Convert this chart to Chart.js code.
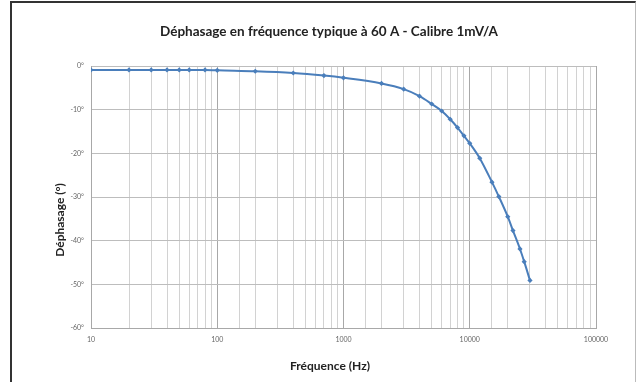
<!DOCTYPE html>
<html>
<head>
<meta charset="utf-8">
<script src="https://cdn.jsdelivr.net/npm/chart.js@4/dist/chart.umd.min.js"></script>
<style>
  html, body { margin: 0; padding: 0; background: #fff; }
  #wrap { position: relative; width: 636px; height: 382px; }
  #frame {
    position: absolute; left: 10px; top: 1px; width: 623px; height: 384px;
    border-left: 2px solid #333; border-top: 2px solid #333; border-right: 1px solid #bbb;
    pointer-events: none;
  }
</style>
</head>
<body>
<div id="wrap">
  <canvas id="phasegraph" width="636" height="382"></canvas>
  <div id="frame"></div>
</div>
<script>
const titleText = "Déphasage en fréquence typique à 60 A - Calibre 1mV/A";
const xTitle = "Fréquence (Hz)";
const yTitle = "Déphasage (°)";

// frequencies (Hz) and phase (degrees)
const freqs = [10, 20, 30, 40, 50, 60, 80, 100, 200, 400, 700, 1000, 2000, 3000, 4000, 5000,
    6000, 7000, 8000, 9000, 10000, 12000, 15000, 17000, 20000, 22000, 25000, 27000, 30000];
const phases = [-0.9, -0.9, -0.9, -0.9, -0.9, -0.9, -0.9, -1.0, -1.2, -1.6, -2.2, -2.7, -4.0, -5.3,
    -6.9, -8.7, -10.3, -12.2, -14.1, -16.0, -17.7, -21.1, -26.6, -29.9, -34.5, -37.7, -41.9, -44.8, -49.1];

const xMin = 10, xMax = 100000;
const yMin = -60, yMax = 0, yStep = 10;

const blue = "#4a7ebb";
const fontFamily = "Lato, 'Open Sans', sans-serif";

const points = freqs.map((f, i) => ({ x: f, y: phases[i] }));

// Excel puts the titles a bit off the plot centre, so they are drawn by hand
const titlesPlugin = {
    id: "titles",
    afterDraw(chart) {
        const c = chart.ctx;
        c.save();
        c.fillStyle = "#222";
        c.textAlign = "center";
        c.textBaseline = "middle";
        c.font = "bold 13.5px " + fontFamily;
        c.fillText(titleText, 329, 32);
        c.font = "bold 12px " + fontFamily;
        c.fillText(xTitle, 330, 366);
        c.translate(60, 220);
        c.rotate(-Math.PI / 2);
        c.fillText(yTitle, 0, 0);
        c.restore();
    },
};

const ctx = document.getElementById("phasegraph").getContext("2d");

const chart = new Chart(ctx, {
    type: "scatter",
    data: {
        datasets: [
            {
                label: "Déphasage",
                data: points,
                showLine: true,
                borderColor: blue,
                backgroundColor: blue,
                borderWidth: 2,
                cubicInterpolationMode: "monotone",
                pointStyle: "rectRot",
                pointRadius: 2.6,
                pointBorderWidth: 0,
            },
        ],
    },
    plugins: [titlesPlugin],
    options: {
        responsive: false,
        animation: false,
        layout: { padding: { left: 12, right: 40, top: 66, bottom: 0 } },
        plugins: {
            legend: { display: false },
            tooltip: { enabled: false },
        },
        scales: {
            x: {
                type: "logarithmic",
                min: xMin,
                max: xMax,
                afterFit: (s) => { s.height = 54; },
                grid: {
                    drawTicks: false,
                    color: (c) => (c.tick && c.tick.major ? "#a8a8a8" : "#d2d2d2"),
                },
                border: { color: "#a8a8a8" },
                ticks: {
                    autoSkip: false,
                    maxRotation: 0,
                    padding: 8,
                    color: "#666",
                    font: { family: fontFamily, size: 7 },
                    callback: (v) => {
                        const l = Math.log10(v);
                        return Math.abs(l - Math.round(l)) < 1e-9 ? String(v) : "";
                    },
                },
            },
            y: {
                min: yMin,
                max: yMax,
                afterFit: (s) => { s.width = 79; },
                grid: { drawTicks: false, color: "#bdbdbd" },
                border: { color: "#a8a8a8" },
                ticks: {
                    stepSize: yStep,
                    padding: 7,
                    color: "#666",
                    font: { family: fontFamily, size: 7 },
                    callback: (v) => v + "°",
                },
            },
        },
    },
});
</script>
</body>
</html>
